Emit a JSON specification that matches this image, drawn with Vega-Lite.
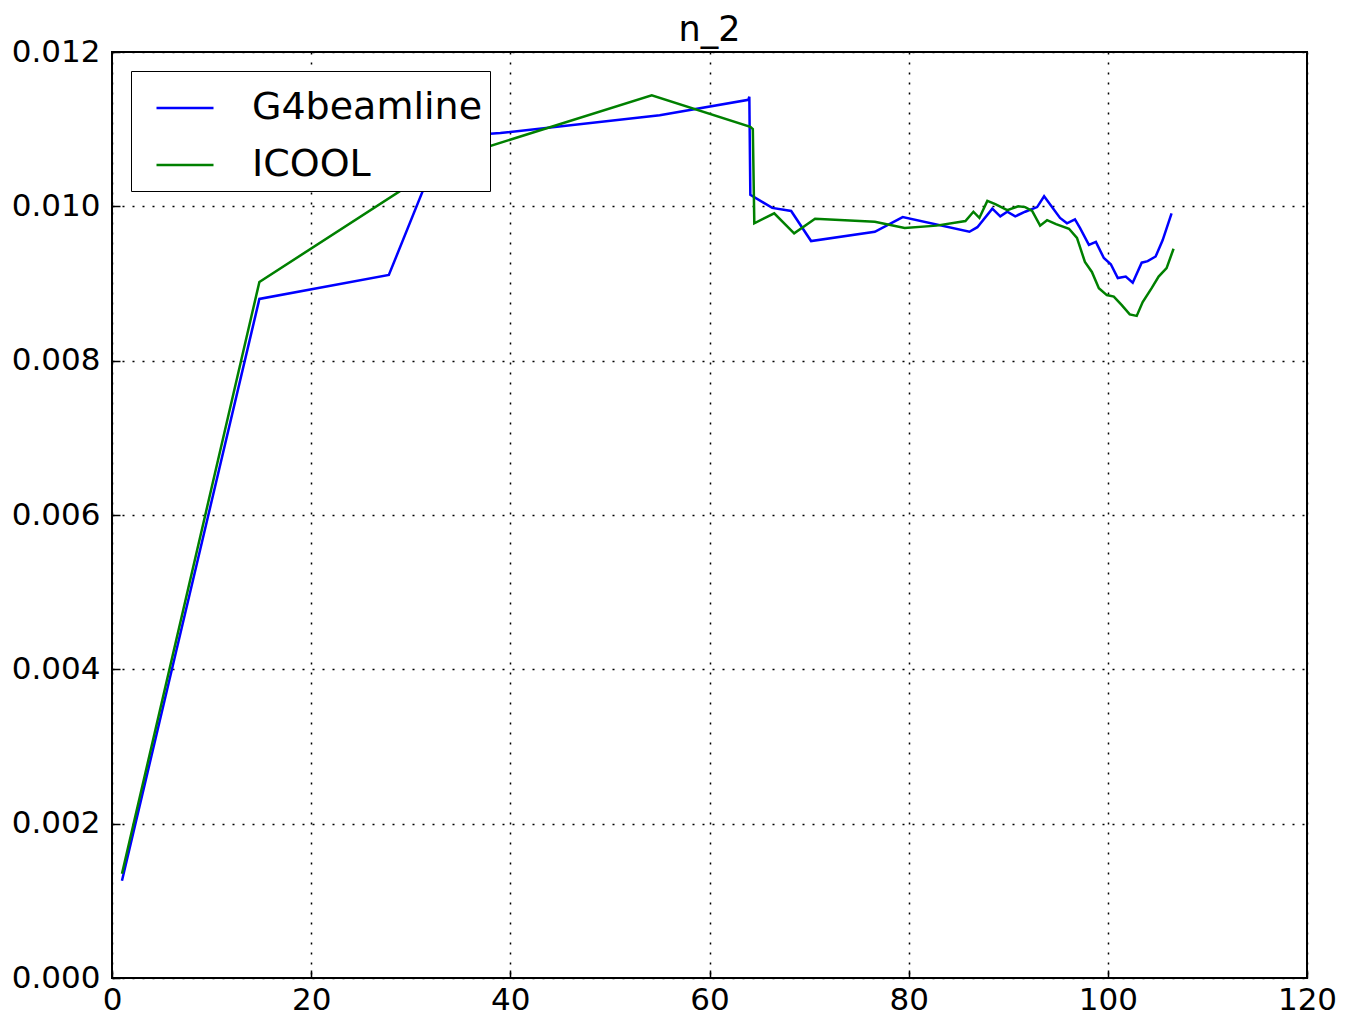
{
  "$schema": "https://vega.github.io/schema/vega-lite/v6.json",
  "width": 1195,
  "height": 926,
  "autosize": {"type": "none"},
  "padding": {"left": 112, "top": 52, "right": 38, "bottom": 45},
  "background": "white",
  "title": {"text": "n_2", "fontSize": 35, "font": "DejaVu Sans", "fontWeight": "normal", "color": "black", "offset": -12},
  "config": {
    "view": {"stroke": "black", "strokeWidth": 2},
    "font": "DejaVu Sans",
    "axis": {
      "domain": false,
      "grid": true,
      "gridColor": "black",
      "gridDash": [2, 8],
      "gridWidth": 1.5,
      "gridOpacity": 1,
      "ticks": true,
      "tickSize": -8,
      "tickColor": "black",
      "tickWidth": 1.5,
      "labelFont": "DejaVu Sans",
      "labelFontSize": 31,
      "labelColor": "black",
      "labelFlush": false,
      "labelOverlap": false,
      "title": null
    }
  },
  "data": {"values": [
    {"s": "G4beamline", "i": 0, "x": 1.0, "y": 0.00126},
    {"s": "G4beamline", "i": 1, "x": 14.8, "y": 0.0088},
    {"s": "G4beamline", "i": 2, "x": 27.8, "y": 0.00911},
    {"s": "G4beamline", "i": 3, "x": 33.4, "y": 0.0109},
    {"s": "G4beamline", "i": 4, "x": 39.0, "y": 0.01095},
    {"s": "G4beamline", "i": 5, "x": 55.0, "y": 0.01118},
    {"s": "G4beamline", "i": 6, "x": 63.9, "y": 0.01138},
    {"s": "G4beamline", "i": 7, "x": 64.0, "y": 0.01142},
    {"s": "G4beamline", "i": 8, "x": 64.1, "y": 0.01015},
    {"s": "G4beamline", "i": 9, "x": 66.3, "y": 0.00998},
    {"s": "G4beamline", "i": 10, "x": 68.2, "y": 0.00994},
    {"s": "G4beamline", "i": 11, "x": 70.2, "y": 0.00955},
    {"s": "G4beamline", "i": 12, "x": 76.6, "y": 0.00967},
    {"s": "G4beamline", "i": 13, "x": 79.4, "y": 0.00986},
    {"s": "G4beamline", "i": 14, "x": 86.1, "y": 0.00967},
    {"s": "G4beamline", "i": 15, "x": 86.9, "y": 0.00973},
    {"s": "G4beamline", "i": 16, "x": 88.4, "y": 0.00997},
    {"s": "G4beamline", "i": 17, "x": 89.2, "y": 0.00987},
    {"s": "G4beamline", "i": 18, "x": 89.9, "y": 0.00993},
    {"s": "G4beamline", "i": 19, "x": 90.7, "y": 0.00987},
    {"s": "G4beamline", "i": 20, "x": 91.7, "y": 0.00993},
    {"s": "G4beamline", "i": 21, "x": 92.9, "y": 0.00999},
    {"s": "G4beamline", "i": 22, "x": 93.6, "y": 0.01013},
    {"s": "G4beamline", "i": 23, "x": 95.2, "y": 0.00985},
    {"s": "G4beamline", "i": 24, "x": 95.9, "y": 0.00978},
    {"s": "G4beamline", "i": 25, "x": 96.7, "y": 0.00983},
    {"s": "G4beamline", "i": 26, "x": 97.2, "y": 0.00972},
    {"s": "G4beamline", "i": 27, "x": 98.1, "y": 0.0095},
    {"s": "G4beamline", "i": 28, "x": 98.8, "y": 0.00954},
    {"s": "G4beamline", "i": 29, "x": 99.6, "y": 0.00933},
    {"s": "G4beamline", "i": 30, "x": 100.3, "y": 0.00925},
    {"s": "G4beamline", "i": 31, "x": 101.0, "y": 0.00907},
    {"s": "G4beamline", "i": 32, "x": 101.8, "y": 0.00909},
    {"s": "G4beamline", "i": 33, "x": 102.5, "y": 0.00901},
    {"s": "G4beamline", "i": 34, "x": 103.4, "y": 0.00927},
    {"s": "G4beamline", "i": 35, "x": 104.0, "y": 0.00929},
    {"s": "G4beamline", "i": 36, "x": 104.8, "y": 0.00935},
    {"s": "G4beamline", "i": 37, "x": 105.5, "y": 0.00956},
    {"s": "G4beamline", "i": 38, "x": 106.4, "y": 0.00991},
    {"s": "ICOOL", "i": 0, "x": 1.0, "y": 0.00135},
    {"s": "ICOOL", "i": 1, "x": 14.8, "y": 0.00902},
    {"s": "ICOOL", "i": 2, "x": 34.0, "y": 0.01062},
    {"s": "ICOOL", "i": 3, "x": 54.2, "y": 0.01144},
    {"s": "ICOOL", "i": 4, "x": 64.1, "y": 0.01103},
    {"s": "ICOOL", "i": 5, "x": 64.35, "y": 0.011},
    {"s": "ICOOL", "i": 6, "x": 64.5, "y": 0.00978},
    {"s": "ICOOL", "i": 7, "x": 66.5, "y": 0.00991},
    {"s": "ICOOL", "i": 8, "x": 68.5, "y": 0.00965},
    {"s": "ICOOL", "i": 9, "x": 70.6, "y": 0.00984},
    {"s": "ICOOL", "i": 10, "x": 76.6, "y": 0.0098},
    {"s": "ICOOL", "i": 11, "x": 79.6, "y": 0.00972},
    {"s": "ICOOL", "i": 12, "x": 82.8, "y": 0.00975},
    {"s": "ICOOL", "i": 13, "x": 85.7, "y": 0.00981},
    {"s": "ICOOL", "i": 14, "x": 86.5, "y": 0.00993},
    {"s": "ICOOL", "i": 15, "x": 87.1, "y": 0.00985},
    {"s": "ICOOL", "i": 16, "x": 87.9, "y": 0.01007},
    {"s": "ICOOL", "i": 17, "x": 88.7, "y": 0.01003},
    {"s": "ICOOL", "i": 18, "x": 89.9, "y": 0.00995},
    {"s": "ICOOL", "i": 19, "x": 91.0, "y": 0.01},
    {"s": "ICOOL", "i": 20, "x": 91.7, "y": 0.00999},
    {"s": "ICOOL", "i": 21, "x": 92.4, "y": 0.00994},
    {"s": "ICOOL", "i": 22, "x": 93.2, "y": 0.00975},
    {"s": "ICOOL", "i": 23, "x": 93.9, "y": 0.00982},
    {"s": "ICOOL", "i": 24, "x": 94.8, "y": 0.00977},
    {"s": "ICOOL", "i": 25, "x": 96.1, "y": 0.00971},
    {"s": "ICOOL", "i": 26, "x": 96.9, "y": 0.00959},
    {"s": "ICOOL", "i": 27, "x": 97.7, "y": 0.00928},
    {"s": "ICOOL", "i": 28, "x": 98.4, "y": 0.00915},
    {"s": "ICOOL", "i": 29, "x": 99.1, "y": 0.00894},
    {"s": "ICOOL", "i": 30, "x": 99.9, "y": 0.00885},
    {"s": "ICOOL", "i": 31, "x": 100.6, "y": 0.00883},
    {"s": "ICOOL", "i": 32, "x": 101.4, "y": 0.00872},
    {"s": "ICOOL", "i": 33, "x": 102.2, "y": 0.0086},
    {"s": "ICOOL", "i": 34, "x": 102.9, "y": 0.00858},
    {"s": "ICOOL", "i": 35, "x": 103.5, "y": 0.00876},
    {"s": "ICOOL", "i": 36, "x": 104.4, "y": 0.00894},
    {"s": "ICOOL", "i": 37, "x": 105.1, "y": 0.00909},
    {"s": "ICOOL", "i": 38, "x": 105.9, "y": 0.0092},
    {"s": "ICOOL", "i": 39, "x": 106.6, "y": 0.00945}
  ]},
  "mark": {"type": "line", "strokeWidth": 2.5, "clip": true},
  "encoding": {
    "x": {"field": "x", "type": "quantitative", "scale": {"domain": [0, 120], "nice": false, "zero": false},
      "axis": {"values": [0, 20, 40, 60, 80, 100, 120], "format": "d", "labelPadding": 15}},
    "y": {"field": "y", "type": "quantitative", "scale": {"domain": [0, 0.012], "nice": false},
      "axis": {"values": [0, 0.002, 0.004, 0.006, 0.008, 0.01, 0.012], "format": ".3f", "labelPadding": 20}},
    "order": {"field": "i", "type": "quantitative"},
    "color": {"field": "s", "type": "nominal",
      "scale": {"domain": ["G4beamline", "ICOOL"], "range": ["#0000ff", "#008000"]},
      "legend": {
        "title": null,
        "orient": "none",
        "legendX": 19,
        "legendY": 19,
        "symbolType": "stroke",
        "symbolSize": 3249,
        "symbolStrokeWidth": 2.5,
        "labelFontSize": 38,
        "labelFont": "DejaVu Sans",
        "labelColor": "black",
        "labelOffset": 37,
        "rowPadding": 8,
        "padding": 7,
        "symbolOffset": 17,
        "strokeColor": "black",
        "fillColor": "white",
        "cornerRadius": 0,
        "labelLimit": 400
      }
    }
  }
}
